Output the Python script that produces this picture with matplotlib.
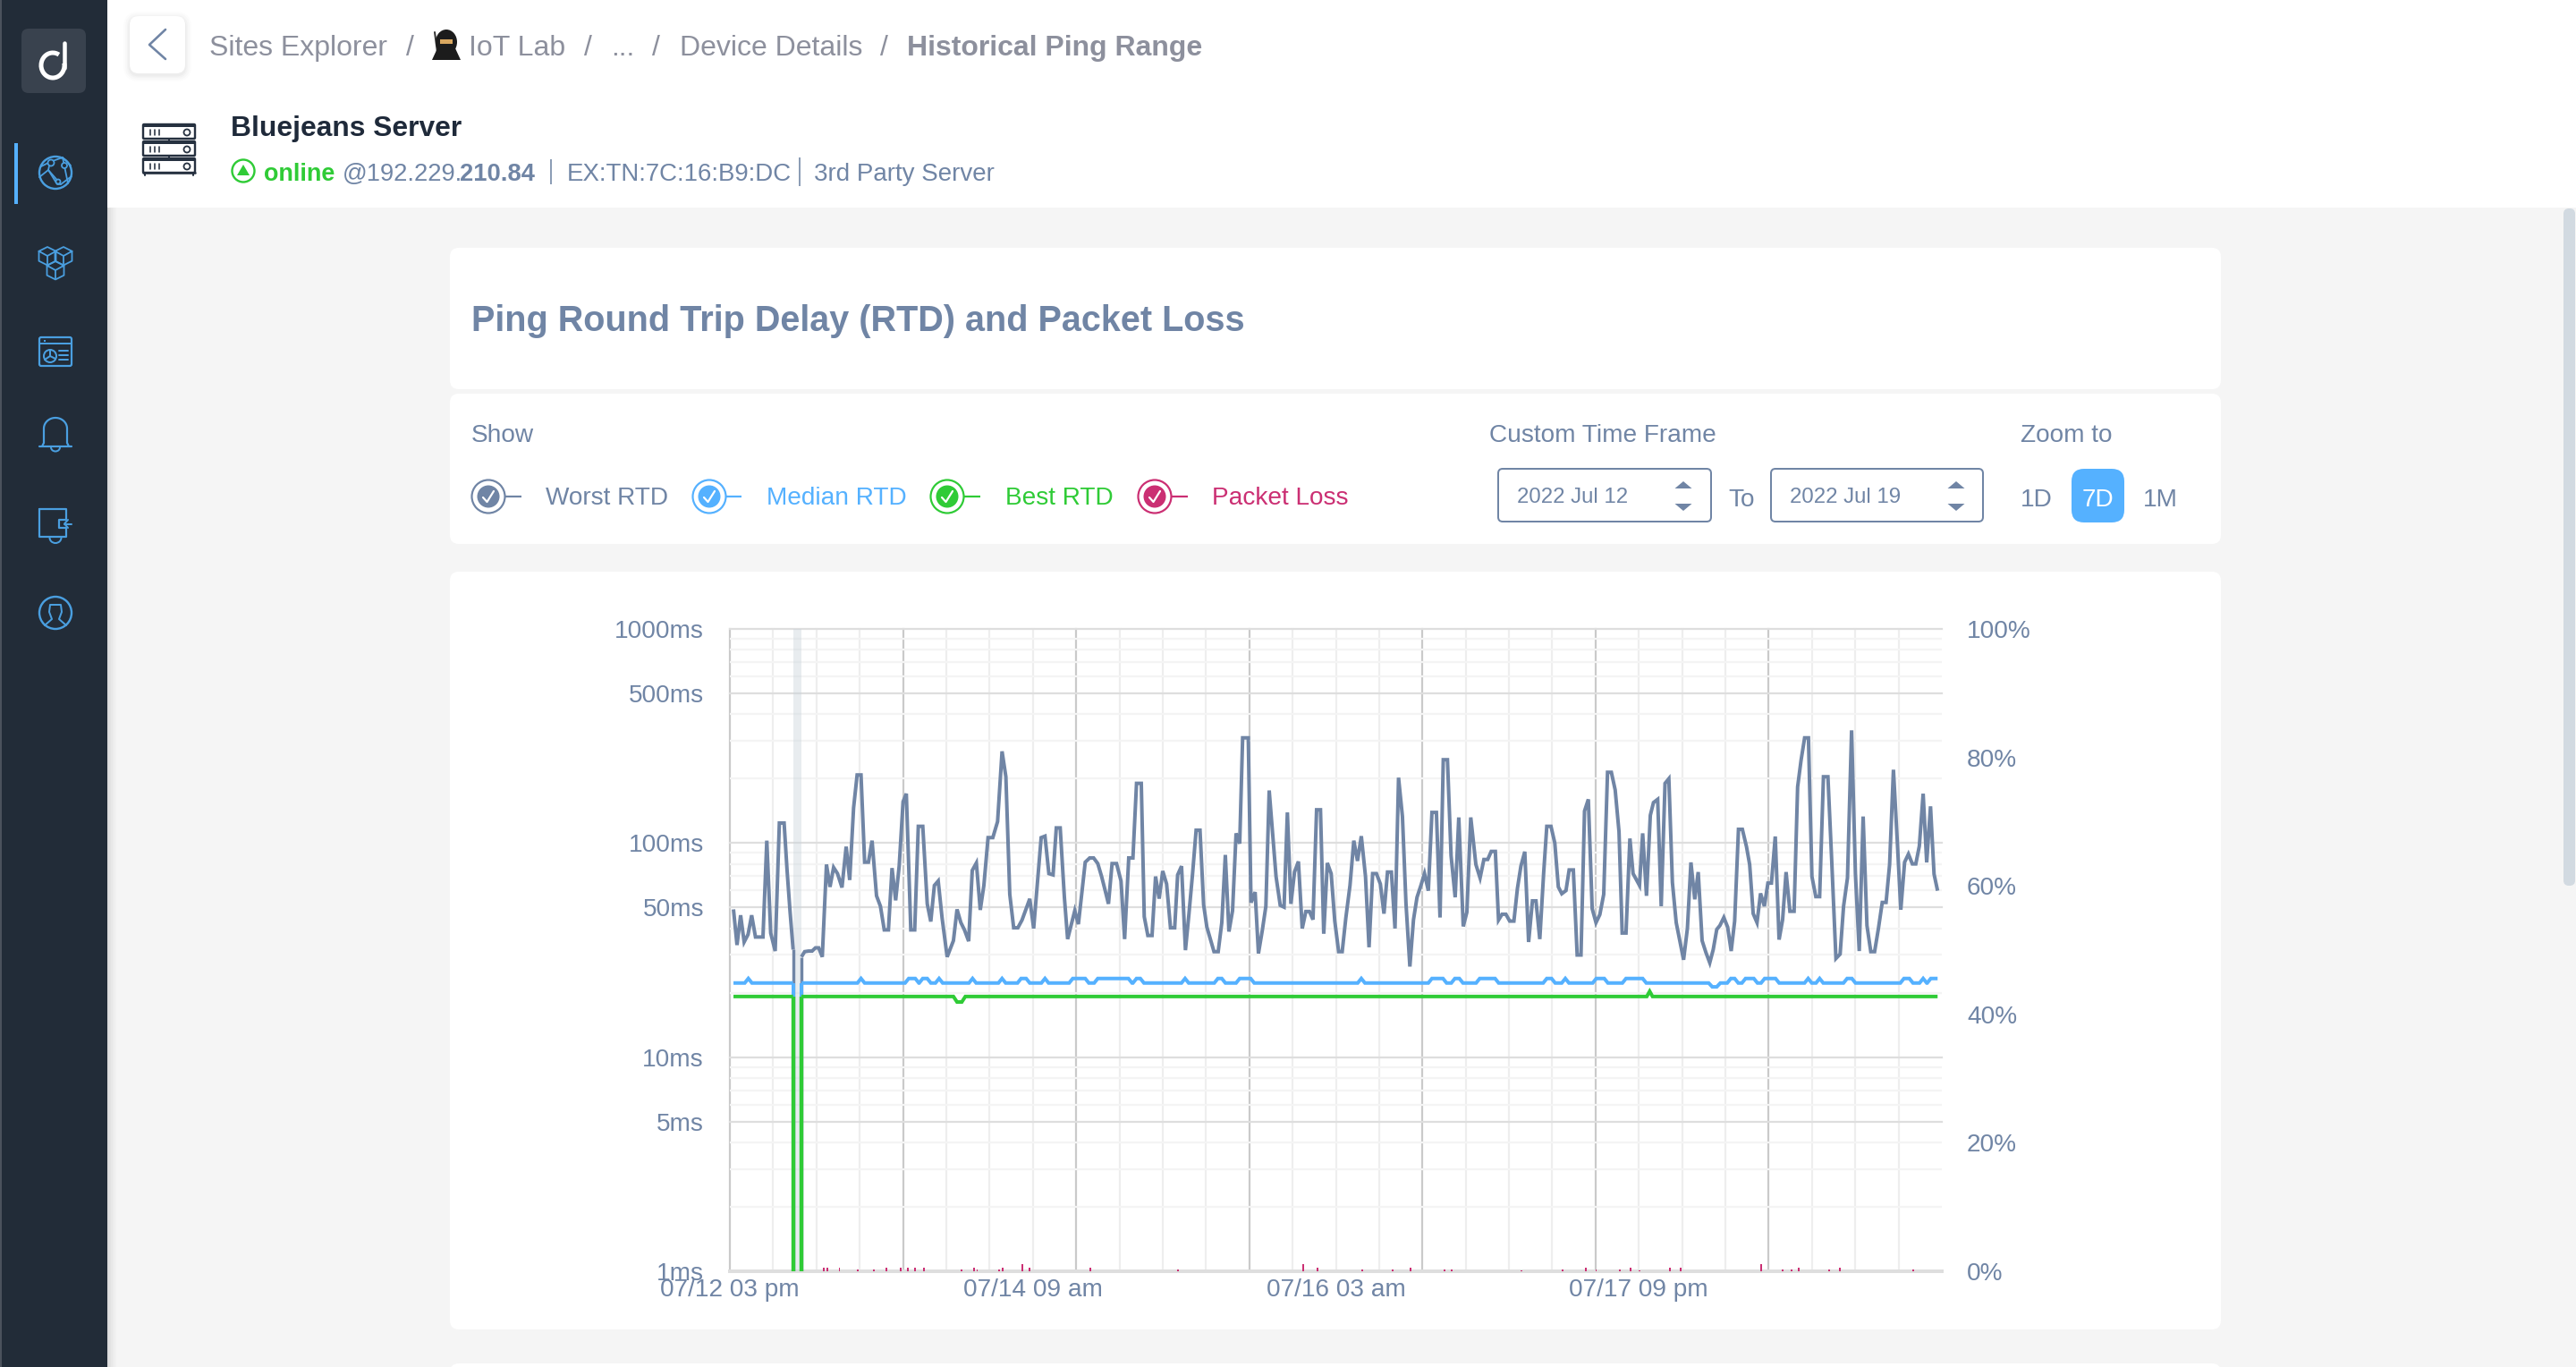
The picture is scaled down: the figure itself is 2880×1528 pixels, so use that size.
import numpy as np
import matplotlib
matplotlib.use("Agg")
import matplotlib.pyplot as plt
from matplotlib.patches import FancyBboxPatch, Rectangle, Circle, Polygon, Arc, Ellipse
from matplotlib.ticker import NullFormatter

plt.rcParams['font.family'] = ['Liberation Sans', 'DejaVu Sans']

# ---------- data ----------
worst_hours = [0.50,0.99,1.49,1.98,2.52,3.02,3.55,4.05,4.59,5.12,5.66,6.28,6.86,7.52,7.93,8.35,8.77,
 9.30,9.92,10.37,10.91,11.40,11.86,12.31,12.81,13.39,13.88,14.38,14.92,15.54,16.12,16.61,17.15,17.64,18.18,18.68,19.21,19.71,20.33,20.87,21.40,21.98,22.48,22.98,23.47,24.01,24.46,25.08,25.62,26.12,26.74,27.36,27.85,28.35,28.88,29.42,30.12,30.99,31.49,32.02,32.52,33.10,33.60,34.17,34.71,35.21,35.79,36.45,37.11,37.73,38.26,38.80,39.34,39.92,40.50,41.03,41.57,42.11,
 43.15,43.68,44.22,44.80,45.25,45.79,46.37,46.82,47.81,48.31,49.26,49.88,50.42,51.00,51.53,51.95,52.48,52.98,53.60,54.22,54.72,55.29,55.87,56.37,57.03,57.44,57.94,58.52,59.01,59.51,60.00,60.54,61.08,61.66,62.07,62.61,63.15,63.64,64.14,64.63,65.17,65.67,66.12,66.62,67.11,67.69,68.19,68.68,69.18,69.68,70.17,70.67,71.08,71.86,72.24,72.81,73.27,73.81,74.30,74.76,75.21,75.71,76.29,76.82,77.28,77.77,78.27,78.81,79.34,79.84,80.34,80.83,81.33,81.87,82.32,82.82,83.35,83.85,84.39,84.88,85.38,85.96,86.49,87.00,87.53,88.11,88.60,89.10,89.63,90.17,90.67,91.16,91.70,92.20,92.69,93.23,93.72,94.26,94.76,95.25,95.79,96.29,96.82,97.32,97.94,98.44,98.89,99.47,99.97,100.54,101.04,101.66,102.16,
 102.70,103.41,103.99,104.52,105.05,105.54,106.11,106.55,107.04,107.57,108.10,108.68,109.17,109.65,110.19,110.72,111.25,111.74,112.27,112.80,113.24,113.82,114.35,114.84,115.32,115.90,116.34,116.92,117.45,117.98,118.47,119.00,119.53,120.06,120.59,121.13,121.66,122.19,122.72,123.25,123.69,124.22,124.76,125.20,125.69,126.09,126.53,127.06,127.59,128.03,128.61,129.10,129.63,130.16,130.65,131.18,131.71,132.20,132.73,133.22,133.75,134.23,134.77,135.30,135.83,136.31,136.80,137.24,137.78,138.31,138.80,139.28,139.81,140.35,140.92,141.36,141.85,142.38,142.87,143.40,143.89,144.38,144.91,145.44,145.93,146.41,146.94,147.52,148.01,148.49,148.98,149.51,149.99,150.53,151.06,151.59,152.21,152.74,153.32,153.90,154.38,154.92,155.49,156.02,156.55,157.09,157.62,158.15,158.68,159.21,159.74,160.27,160.76,161.29,161.82,162.31,162.84,163.37,163.91,164.39,164.88,165.41,165.90,166.43,166.92,167.41]
worst_ms = [49,33.4,46,34.5,37.4,46,36.4,36.4,36.4,102.6,38,31.3,124,124,74.5,47.5,31.8,
 np.nan,29.4,31.1,31.3,31.3,32.4,32.4,29.4,79.4,62.4,76.9,72,62,96.2,67.2,146,208,208,81.4,81.4,102.6,56.7,50.7,39.3,39.3,76.4,54,78.1,156,170,39.3,39.3,119.7,119.7,52,43,63.4,66.5,44.6,29.4,35,49,42.5,39.3,34.8,74.5,80.7,48.7,63.4,106,106,126,268,204,57.6,40.2,40.2,43.7,49,54.9,39.9,
 106,107.7,72,71,117.7,117.7,55.8,35.6,48.3,41.8,81.4,85.2,85.2,80.2,69.8,61.4,52,80.2,80.2,66.5,35.6,85.2,85.2,190,190,45.3,37,37,69.8,55,74,64.4,40.2,40.2,71,78,31.6,46.8,72,114.8,114.8,51.5,40.5,35.4,31.1,31.1,42.5,88,38.6,48.3,111,99.4,310,310,52.7,59,30.5,39.2,50.7,176,113,69.8,51.2,50.2,139,52,73.2,82,39.9,47.9,47.9,43.9,143,143,37.7,80.7,72,43.2,31.1,31.1,44.6,63.4,102.6,82.5,107.7,69.8,32.6,72,72,64.4,46.8,73.2,73.2,39.9,202,133,52.3,26.5,43.8,55.8,63.4,72,59.9,139,139,44.9,245,245,87.4,55.8,131.7,40.8,47.5,
 131.7,79.4,68.7,83.8,83.8,91.4,91.4,43.7,46.5,46.5,43.2,43.2,61.4,78,91.1,34.5,53.7,53.7,35.6,72,119.7,119.7,100,62.4,58,60,74.9,74.9,30,30,141,160,49.4,42.5,46.3,57.6,214,214,177,113,38,38,105,72,67.2,63.4,111,56.7,134.7,154.6,160,50.7,190,199.8,65.5,42.5,34.5,28.5,39.9,81.2,54.6,73.2,35,30.8,27.6,31.8,39.5,41.2,44.9,40.5,31.3,43.2,115.9,115.9,96.2,79.4,46.8,42.5,58.2,50.7,65,65,107.3,35.4,43.9,73.2,48,48,183,244,310,310,69.8,56.2,56.2,204,204,82,28.9,30.3,50.7,68.7,336,72,31.3,133,41.2,31.1,31.1,39.9,52.8,52.8,79.4,220,102.6,48.8,81.4,88.8,79.9,79.9,96.8,170,81.2,148.4,71.6,59.9]

outage_hours = [8.77, 9.92]            # the ping went dark between these two samples
median_base_ms, median_high_ms, median_low_ms = 22.2, 23.3, 21.3
median_high_from = [2.56,18.18,24.79,26.74,29.0,33.64,37.73,40.37,43.68,47.53,51.0,56.37,63.1,67.65,70.67,87.53,97.32,100.5,103.94,113.24,115.81,120.1,124.22,138.75,140.79,143.44,149.47,151.06,154.87,162.75,165.41,166.47]
median_high_to   = [2.56,18.18,25.70,27.36,29.0,33.64,37.73,41.07,43.68,49.26,55.25,56.9,63.1,68.19,72.19,87.53,98.85,101.12,106.07,113.9,115.81,121.21,126.53,139.28,141.94,144.95,149.47,151.06,155.53,163.5,165.41,167.41]
median_low_from, median_low_to = [136.18], [136.8]

best_hours = [0.5,8.77,9.3,9.92,30.99,31.49,32.15,32.64,127.1,127.5,127.9,167.41]
best_ms    = [19.2,19.2,np.nan,19.2,19.2,18.1,18.1,19.2,19.2,20.3,19.2,19.2]

loss_hours = [12.97,13.47,15.19,17.73,19.95,21.66,23.66,24.65,25.65,26.87,32.06,33.79,34.28,37.33,37.82,40.53,41.54,49.95,62.07,79.46,81.45,87.69,91.89,94.35,99.07,100.04,109.71,115.46,118.65,120.08,123.37,124.86,126.1,130.32,131.8,142.96,145.93,147.18,148.15,152.35,153.84,164.03]
loss_pct   = [0.5,0.5,0.5,0.33,0.33,0.5,0.5,0.5,0.5,0.5,0.33,0.5,0.33,0.33,0.5,1.1,0.5,0.5,0.33,1.1,0.5,0.33,0.33,0.5,0.33,0.33,0.12,0.33,0.5,0.33,0.33,0.5,0.2,0.5,0.5,1.1,0.33,0.33,0.5,0.33,0.5,0.33]

rtd_ticks = [1,5,10,50,100,500,1000]
rtd_labels = ['1ms','5ms','10ms','50ms','100ms','500ms','1000ms']
rtd_minor = [2,3,4,6,7,8,9,20,30,40,60,70,80,90,200,300,400,600,700,800,900]
loss_ticks = [0,20,40,60,80,100]
loss_labels = ['0%','20%','40%','60%','80%','100%']
time_grid = list(range(0,168,6))
time_labels = {0:'07/12 03 pm',42:'07/14 09 am',84:'07/16 03 am',126:'07/17 09 pm'}

GREY='#7085a5'; BLUE='#55b1ff'; GREEN='#2fcb36'; PINK='#cb2f73'
DARK='#222c38'; CRUMB='#8d909d'; ICON='#4a9fe0'; INK='#263140'

def px(p): return p*0.72

fig = plt.figure(figsize=(28.8,15.28), dpi=100, facecolor='white')

# ---------- page chrome, in pixel units ----------
bg = fig.add_axes([0,0,1,1]); bg.set_xlim(0,2880); bg.set_ylim(1528,0); bg.axis('off')

def rrect(x0,y0,x1,y1,r,fc='white',ec='none',lw=0,z=2,alpha=None):
    bg.add_patch(FancyBboxPatch((x0,y0),x1-x0,y1-y0,boxstyle=f'round,pad=0,rounding_size={r}',fc=fc,ec=ec,lw=px(lw),zorder=z,alpha=alpha))
def line(xs,ys,c=ICON,lw=2.4,z=4,**k):
    bg.plot(xs,ys,color=c,lw=px(lw),zorder=z,solid_capstyle=k.pop('cap','round'),solid_joinstyle='round',**k)
def txt(x,y,s,c=GREY,size=28,ha='left',bold=False,z=5):
    bg.text(x,y-1.5,s,color=c,fontsize=px(size),ha=ha,va='center_baseline',fontweight='bold' if bold else 'normal',zorder=z)
def ring(x,y,r,c=ICON,lw=2.4,fc='none',z=4):
    bg.add_patch(Circle((x,y),r,fc=fc,ec=c,lw=px(lw),zorder=z))

bg.add_patch(Rectangle((0,0),2880,1528,fc='#f5f5f5',ec='none',zorder=0))
bg.add_patch(Rectangle((120,0),2760,232,fc='white',ec='none',zorder=1))
for i,a in enumerate([.10,.07,.05,.03,.015]):
    bg.add_patch(Rectangle((120+i*2,232),2,1296,fc='black',ec='none',alpha=a,zorder=1))
bg.add_patch(Rectangle((0,0),120,1528,fc=DARK,ec='none',zorder=3))
bg.add_patch(Rectangle((0,0),2,1528,fc='#4b525c',ec='none',zorder=3))

# logo
rrect(24,32,96,104,8,fc='#39424e',z=4)
bg.add_patch(Arc((59,73),26,28,theta1=-10,theta2=300,ec='white',lw=px(5),zorder=5))
line([72,72],[48,76],c='white',lw=4.5,z=5)
# side navigation
bg.add_patch(Rectangle((16,160),4,68,fc=BLUE,ec='none',zorder=4))
cx=62
y=193
ring(cx,y,18)
line([46,56,70,79],[186,181,176,185],lw=1.8)
line([44,54,68,80],[198,190,206,197],lw=1.8)
line([56,54,64,68],[181,190,206,206],lw=1.8)
line([70,76],[176,205],lw=1.8)
for a,b,r in [(57,182,3.5),(72,185,3),(65,203,2.5)]:
    ring(a,b,r,lw=1.8,fc=DARK,z=5)
def cube(cx_,cy_,s=9.5):
    line([cx_-s,cx_,cx_+s,cx_+s,cx_,cx_-s,cx_-s,cx_,cx_+s],[cy_-s*.55,cy_-s*1.05,cy_-s*.55,cy_+s*.6,cy_+s*1.1,cy_+s*.6,cy_-s*.55,cy_,cy_-s*.55],lw=1.8)
    line([cx_,cx_],[cy_,cy_+s*1.1],lw=1.8)
cube(53,286); cube(71,286); cube(62,302)
rrect(44,377,80,409,2,fc='none',ec=ICON,lw=2.2,z=4)
line([44,80],[384,384],lw=2)
line([49,51.5,54],[381,381,381],lw=2,ls=':')
ring(56,398,7,lw=2); line([56,56,62],[391,398,401],lw=2); line([56,50],[398,402],lw=2)
for b in (392,397,402): line([66,76],[b,b],lw=2)
bell=np.linspace(np.pi,0,30)
line(np.r_[47,49,49,cx+13*np.cos(bell),75,77],np.r_[499,495,482,479+(-12)*np.sin(bell),495,499],lw=2.2)
line([44,80],[499,499],lw=2.2)
bg.add_patch(Arc((62,500),10,9,theta1=0,theta2=180,ec=ICON,lw=px(2),zorder=4))
line([44,74,74,66,66,74,74,68,56,44,44],[569,569,581,581,590,590,600,600,600,600,569],lw=2.2)
bg.add_patch(Arc((62,601),13,12,theta1=0,theta2=180,ec=ICON,lw=px(2),zorder=4))
line([72,80],[585.5,585.5],lw=2); line([76,72,76],[581,585.5,590],lw=2)
ring(cx,685,18)
line([50,58,55,56,68,69,66,74],[699,692,684,676,676,684,692,699],lw=2)

# back button
for g,a in [(7,.012),(5,.015),(3,.02),(1.5,.025)]:
    rrect(145-g,18-g+2,207+g,82+g+2,10+g,fc='#000000',z=2,alpha=a)
rrect(145,18,207,82,10,z=3)
line([185,167,185],[33,50,66],c=GREY,lw=2.6)

# breadcrumb
txt(234,52,'Sites Explorer',c=CRUMB,size=32)
txt(454,52,'/',c=CRUMB,size=32)
bg.add_patch(Ellipse((499,47),24,28,fc='#1c1c1c',ec='none',zorder=5))
bg.add_patch(Polygon([(483,67),(489,54),(509,54),(515,67)],fc='#1c1c1c',ec='none',zorder=5))
bg.add_patch(Rectangle((492,44),14,5,fc='#d9a860',ec='none',zorder=6))
line([486,490],[36,66],c='#333333',lw=2,z=4)
txt(524,52,'IoT Lab',c=CRUMB,size=32)
txt(653,52,'/',c=CRUMB,size=32)
txt(683,52,'...',c=CRUMB,size=32)
txt(729,52,'/',c=CRUMB,size=32)
txt(760,52,'Device Details',c=CRUMB,size=32)
txt(984,52,'/',c=CRUMB,size=32)
txt(1014,52,'Historical Ping Range',c=CRUMB,size=32,bold=True)

# device header
for r0 in (139,158,177):
    rrect(160,r0,218,r0+16,1,fc='white',ec=INK,lw=2.4,z=4)
    bg.add_patch(Rectangle((160,r0),58,3,fc=INK,ec='none',zorder=5))
    for b in (168,173,178): line([b,b],[r0+6,r0+12],c=INK,lw=1.6,z=5)
    ring(209,r0+9,3.5,c=INK,lw=1.8,z=5)
line([189,189],[155,158],c=INK,lw=2); line([189,189],[174,177],c=INK,lw=2)
line([160,218],[193,193],c=INK,lw=2.6); line([162,162],[193,196],c=INK,lw=2); line([216,216],[193,196],c=INK,lw=2)
txt(258,142,'Bluejeans Server',c='#1f2a3a',size=31.8,bold=True)
ring(272,191,12.5,c=GREEN,lw=2.4)
bg.add_patch(Polygon([(265,196),(279,196),(272,184)],fc=GREEN,ec='none',zorder=5))
txt(295,193,'online',c=GREEN,size=27,bold=True)
txt(383,193,'@192.229.',size=27.4)
txt(514,193,'210.84',size=27.4,bold=True)
line([616,616],[178,206],lw=1.6,c=GREY,cap='butt')
txt(634,193,'EX:TN:7C:16:B9:DC',size=27.6)
line([894,894],[176,208],lw=1.6,c=GREY,cap='butt')
txt(910,193,'3rd Party Server',size=27.8)

# scrollbar
rrect(2866,233,2879,990,6,fc='#d2dae1',z=2)

# cards
rrect(503,277,2483,435,10,z=1.5)
txt(527,357,'Ping Round Trip Delay (RTD) and Packet Loss',size=39.6,bold=True)
rrect(503,440,2483,608,10,z=1.5)
txt(527,485,'Show')
rrect(503,639,2483,1486,10,z=1.5)
rrect(503,1524,2483,1560,10,z=1.5)

for cx_,end,tx,name,c in [(546,583,610,'Worst RTD',GREY),(793,829,857,'Median RTD',BLUE),(1059,1096,1124,'Best RTD',GREEN),(1291,1328,1355,'Packet Loss',PINK)]:
    ring(cx_,555,18.5,c=c,lw=2.2)
    bg.add_patch(Circle((cx_,555),12.5,fc=c,ec='none',zorder=5))
    line([cx_-6,cx_-1.5,cx_+6],[556,561,549],c='white',lw=2.2,z=6)
    line([cx_+18,end],[555,555],c=c,lw=2.2,cap='butt')
    txt(tx,556,name,c=c,size=28)

txt(1665,485,'Custom Time Frame')
for x0,x1,ax_,s in [(1675,1913,1882,'2022 Jul 12'),(1980,2217,2187,'2022 Jul 19')]:
    rrect(x0,524,x1,583,5,fc='white',ec=GREY,lw=2,z=3)
    txt(x0+21,555,s,size=24)
    bg.add_patch(Polygon([(ax_-9.5,546),(ax_+9.5,546),(ax_,538)],fc=GREY,ec='none',zorder=5))
    bg.add_patch(Polygon([(ax_-9.5,563),(ax_+9.5,563),(ax_,571)],fc=GREY,ec='none',zorder=5))
txt(1932,557,'To')
txt(2259,485,'Zoom to')
txt(2259,557,'1D')
rrect(2316,524,2375,584,14,fc=BLUE,z=3)
txt(2345.5,557,'7D',c='white',ha='center')
txt(2396,557,'1M')

# ---------- the chart ----------
L,R,T,B = 816,2171,703,1421
ax = fig.add_axes([L/2880,1-B/1528,(R-L)/2880,(B-T)/1528],zorder=5)
ax.patch.set_visible(False)
ax.set_yscale('log'); ax.set_ylim(1,1000); ax.set_xlim(0,168)
for s in ax.spines.values(): s.set_visible(False)
ax.set_yticks(rtd_ticks,rtd_labels)
ax.set_yticks(rtd_minor,minor=True); ax.yaxis.set_minor_formatter(NullFormatter())
ax.set_xticks(time_grid,[time_labels.get(h,'') for h in time_grid])
ax.tick_params(which='both',length=0,labelcolor=GREY,labelsize=px(28))
ax.tick_params(axis='y',pad=px(29))
ax.tick_params(axis='x',pad=px(8))
ax.set_axisbelow(True)
ax.grid(True,axis='x',color='#eeeeee',lw=px(2.2))
ax.grid(True,axis='y',which='major',color='#dedede',lw=px(2.2))
ax.grid(True,axis='y',which='minor',color='#f4f4f4',lw=px(2.2))
for h,g in zip(time_grid,ax.get_xgridlines()):
    if h%24==0: g.set_color('#cacaca')
for g in ax.get_ygridlines(): g.set_clip_on(False)
ax.get_ygridlines()[0].set_linewidth(px(4))
for g in ax.get_xgridlines(): g.set_clip_on(False)

ax.axvspan(8.84,9.92,fc='#c9d4db',ec='none',alpha=.42,zorder=1)

def median_series():
    pts=[(0.5,median_base_ms),(outage_hours[0],median_base_ms),(9.3,np.nan),(outage_hours[1],median_base_ms),(167.41,median_base_ms)]
    for s,e,lv in list(zip(median_high_from,median_high_to,[median_high_ms]*len(median_high_to)))+list(zip(median_low_from,median_low_to,[median_low_ms])):
        pts+=[(s-.5,median_base_ms),(s,lv),(e,lv)]
        if e+.5<=167.41: pts.append((e+.5,median_base_ms))
    pts=[p for p in pts if not (p[0]==167.41 and p[1]==median_base_ms)]
    pts.sort(key=lambda p:p[0])
    return zip(*pts)

kw=dict(lw=px(4),solid_joinstyle='miter',solid_capstyle='butt')
ax.vlines(outage_hours,1,[31.8,29.4],color=GREY,lw=px(3.4),zorder=2)
ax.plot(worst_hours,worst_ms,color=GREY,zorder=2.1,**kw)
ax.vlines(outage_hours,1,median_base_ms,color=BLUE,lw=px(4),zorder=3)
mh,mv=median_series()
ax.plot(mh,mv,color=BLUE,zorder=3.1,**kw)
ax.vlines(outage_hours,1,19.2,color=GREEN,lw=px(4.4),zorder=4)
ax.plot(best_hours,best_ms,color=GREEN,zorder=4.1,**kw)

ax2=ax.twinx()
ax2.patch.set_visible(False)
ax2.set_ylim(0,100)
for s in ax2.spines.values(): s.set_visible(False)
ax2.set_yticks(loss_ticks,loss_labels)
ax2.tick_params(length=0,labelcolor=GREY,labelsize=px(28),pad=px(28))
ax2.bar(loss_hours,loss_pct,width=0.24,color=PINK,zorder=3)

fig.savefig('out.png',dpi=100)
